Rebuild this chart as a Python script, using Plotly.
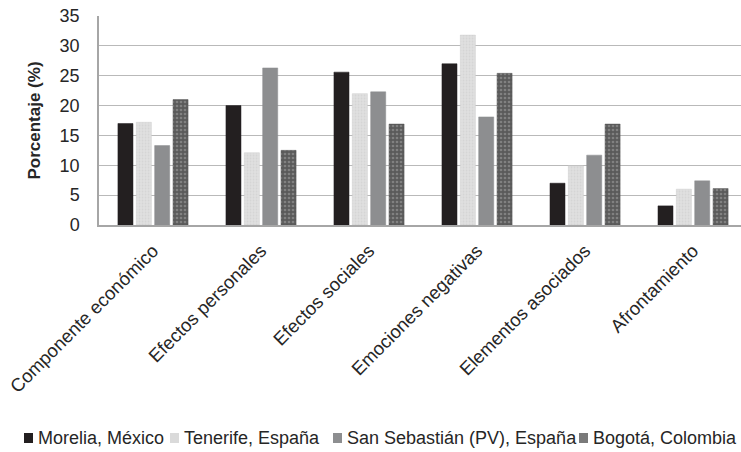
import plotly.graph_objects as go

categories = ["Componente económico", "Efectos personales", "Efectos sociales",
              "Emociones negativas", "Elementos asociados", "Afrontamiento"]
series_names = ["Morelia, México", "Tenerife, España",
                "San Sebastián (PV), España", "Bogotá, Colombia"]
morelia = [17.0, 20.0, 25.6, 27.0, 7.0, 3.2]
tenerife = [17.2, 12.1, 22.0, 31.8, 9.9, 6.0]
san_sebastian = [13.3, 26.3, 22.3, 18.1, 11.7, 7.4]
bogota = [21.0, 12.5, 16.9, 25.4, 16.9, 6.1]
y_ticks = [0, 5, 10, 15, 20, 25, 30, 35]

W, H = 741, 452
L, R, T, B = 99, 0, 16, 227
PW, PH = W - L - R, H - T - B

def px(x):
    return (x - L) / PW

def py(y):
    return (H - B - y) / PH

styles = [
    dict(color="#231f20", line=dict(color="#231f20", width=0.5)),
    dict(color="#dadada", line=dict(color="#cfcfcf", width=0.5),
         pattern=dict(shape=".", fgcolor="#c9c9c9", bgcolor="#e0e0e0", size=3, solidity=0.3)),
    dict(color="#8d8e90", line=dict(color="#8d8e90", width=0.5)),
    dict(color="#5e5e5e", line=dict(color="#555555", width=0.5),
         pattern=dict(shape=".", fgcolor="#a8a8a8", bgcolor="#5a5a5a", size=4, solidity=0.35)),
]
legend_colors = ["#231f20", "#dadada", "#8d8e90", "#7a7a7a"]

fig = go.Figure()
for name, vals, st in zip(series_names, [morelia, tenerife, san_sebastian, bogota], styles):
    fig.add_trace(go.Bar(x=categories, y=vals, name=name, marker=st, showlegend=False))

font_family = "Liberation Sans, Arial, sans-serif"
fig.update_layout(
    width=W, height=H,
    margin=dict(l=L, r=R, t=T, b=B, pad=0),
    paper_bgcolor="white", plot_bgcolor="white",
    barmode="group", bargap=0.32, bargroupgap=0.18,
    font=dict(family=font_family, size=18, color="#262626"),
    xaxis=dict(
        range=[-0.5, 5.444], tickangle=-45, showgrid=False,
        showline=True, linecolor="#a6a6a6", linewidth=1.5,
        ticks="", tickfont=dict(size=18.5, color="#262626"),
        ticklabelstandoff=6,
    ),
    yaxis=dict(
        range=[0, 35], tickvals=y_ticks, showgrid=True,
        gridcolor="#b9b9b9", gridwidth=1.3,
        showline=True, linecolor="#a6a6a6", linewidth=1.5,
        ticks="", tickfont=dict(size=18, color="#262626"),
        ticklabelstandoff=14, zeroline=False,
        title=dict(text="<b>Porcentaje (%)</b>", font=dict(size=17, color="#262626"), standoff=15),
    ),
)

# Legend row (manually laid out as a single row like the reference)
legend_txt_x = [36, 182, 345, 591]
legend_y = 438
for i, name in enumerate(series_names):
    sx = legend_txt_x[i] - 12
    fig.add_shape(type="rect", xref="paper", yref="paper",
                  x0=px(sx), x1=px(sx + 9),
                  y0=py(legend_y + 5), y1=py(legend_y - 5),
                  fillcolor=legend_colors[i], line=dict(width=0))
    fig.add_annotation(text=name, xref="paper", yref="paper",
                       x=px(legend_txt_x[i]), y=py(legend_y),
                       xanchor="left", yanchor="middle", showarrow=False,
                       font=dict(size=18, color="#262626"))

fig.write_html("out.html", config={"displayModeBar": False},
               post_script="document.body.style.margin='0';document.body.style.overflow='hidden';")
